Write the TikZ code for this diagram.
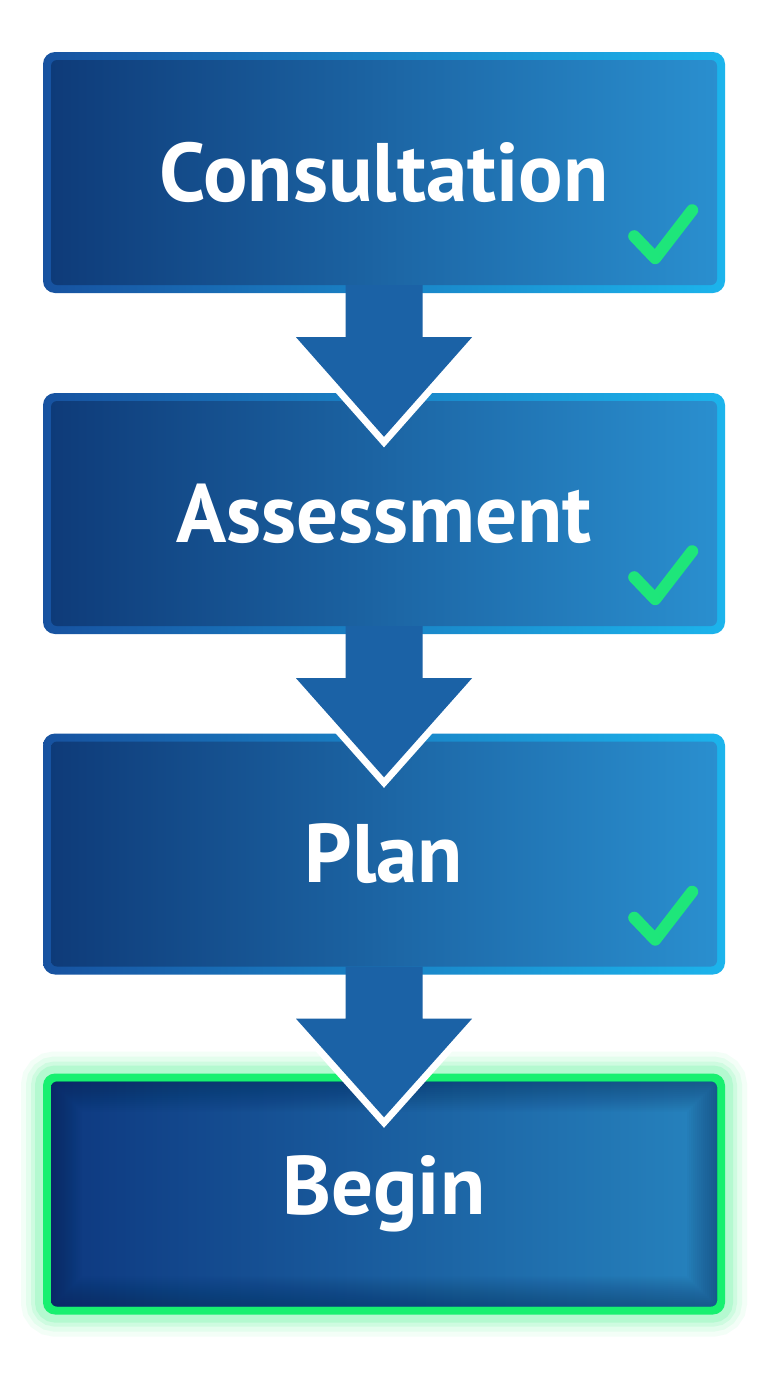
\documentclass[tikz,border=0pt]{standalone}
\usepackage{fontspec}
\setmainfont{PT Sans}
\usetikzlibrary{positioning}

\definecolor{boxdark}{HTML}{0E3A78}
\definecolor{boxlight}{HTML}{2A90D0}
\definecolor{rimdark}{HTML}{1752A0}
\definecolor{rimlight}{HTML}{1CB4EC}
\definecolor{arrowblue}{HTML}{1B62A6}
\definecolor{tickgreen}{HTML}{1EE67A}
\definecolor{glowgreen}{HTML}{18F070}
\definecolor{shadowblue}{HTML}{0A2850}

\tikzset{
  framebox/.style={rounded corners=12, minimum width=682, minimum height=241,
    inner sep=0, text=white, font=\fontsize{83}{90}\selectfont\bfseries},
  stepbox/.style={framebox, left color=rimdark, right color=rimlight,
    path picture={
      \shade[left color=boxdark, right color=boxlight, rounded corners=6]
        ([shift={(8,-8)}]path picture bounding box.south west) rectangle
        ([shift={(-8,8)}]path picture bounding box.north east);
    }},
  beginbox/.style={framebox, fill=glowgreen,
    preaction={draw=glowgreen, line width=44, opacity=0.05},
    preaction={draw=glowgreen, line width=34, opacity=0.07},
    preaction={draw=glowgreen, line width=24, opacity=0.10},
    preaction={draw=glowgreen, line width=16, opacity=0.14},
    path picture={
      \begin{scope}
      \path[clip, rounded corners=6]
        ([shift={(8,-8)}]path picture bounding box.south west) rectangle
        ([shift={(-8,8)}]path picture bounding box.north east);
      \shade[left color=boxdark!95!blue, right color=boxlight!92!black]
        (path picture bounding box.south west) rectangle
        (path picture bounding box.north east);
      \foreach \w in {4,8,...,60} {
        \draw[shadowblue, line width=\w, opacity=0.03, rounded corners=6]
          ([shift={(8,-8)}]path picture bounding box.south west) rectangle
          ([shift={(-8,8)}]path picture bounding box.north east);
      }
      \end{scope}
    }},
  arrowrim/.style={draw=white, line width=14, miter limit=10},
  tick/.style={draw=tickgreen, line width=12, line cap=round, line join=round},
}

\begin{document}
\begin{tikzpicture}[x=1pt, y=-1pt]
\useasboundingbox[fill=white] (0,0) rectangle (768,1376);

\node(consult) at (384,172.5)[stepbox]   {Consultation};
\node(assess)  at (384,513.5)[stepbox]   {Assessment};
\node(plan)    at (384,854)[stepbox]     {Plan};
\node(begin)   at (384,1194)[beginbox]   {Begin};

% down arrows between the steps
\foreach \from/\to in {consult/assess, assess/plan, plan/begin} {
  \draw[arrowrim] ([shift={(-88,44)}]\from.south) -- ([shift={(0,44)}]\to.north)
    -- ([shift={(88,44)}]\from.south);
  \fill[arrowblue] ([shift={(-38.5,-8)}]\from.south) -- ([shift={(-38.5,44)}]\from.south)
    -- ([shift={(-88,44)}]\from.south) -- ([shift={(0,44)}]\to.north)
    -- ([shift={(88,44)}]\from.south) -- ([shift={(38.5,44)}]\from.south)
    -- ([shift={(38.5,-8)}]\from.south) -- cycle;
}

% ticks on finished steps
\foreach \n in {consult, assess, plan}
  \draw[tick] ([shift={(-91,-57)}]\n.south east) -- ([shift={(-70,-35)}]\n.south east)
    -- ([shift={(-33,-83)}]\n.south east);
\end{tikzpicture}
\end{document}
